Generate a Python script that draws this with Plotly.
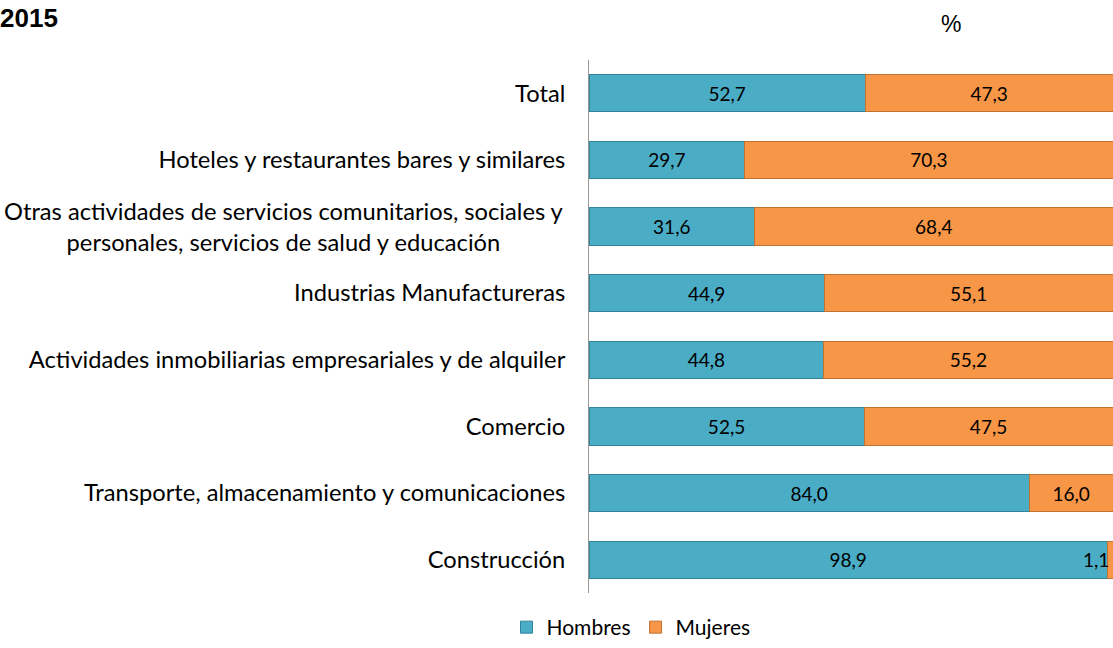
import plotly.graph_objects as go

categories = [
    "Total",
    "Hoteles y restaurantes bares y similares",
    "Otras actividades de servicios comunitarios, sociales y<br>personales, servicios de salud y educación",
    "Industrias Manufactureras",
    "Actividades inmobiliarias empresariales y de alquiler",
    "Comercio",
    "Transporte, almacenamiento y comunicaciones",
    "Construcción",
]
hombres = [52.7, 29.7, 31.6, 44.9, 44.8, 52.5, 84.0, 98.9]
mujeres = [47.3, 70.3, 68.4, 55.1, 55.2, 47.5, 16.0, 1.1]

def fmt(v):
    return f"{v:.1f}".replace(".", ",")

BLUE = "#4bacc6"
ORANGE = "#f79646"
FONT = "Lato"
LABEL_SIZE = 23.7
VALUE_SIZE = 19

W, H = 1113, 648
ML, MR, MT, MB = 589, 0, 60, 648 - 593
PW, PH = W - ML - MR, H - MT - MB

def px_x(px):
    return (px - ML) / PW

def px_y(py):
    return 1 - (py - MT) / PH

muj_text = [fmt(v) if v >= 5 else "" for v in mujeres]
tick_text = [c if "<br>" not in c else "" for c in categories]

fig = go.Figure()
fig.add_trace(go.Bar(
    y=categories, x=hombres, orientation="h", name="Hombres",
    marker=dict(color=BLUE, line=dict(color="#31849b", width=1)),
    text=[fmt(v) for v in hombres], textposition="inside", insidetextanchor="middle",
    textfont=dict(color="black", size=VALUE_SIZE, family=FONT),
))
fig.add_trace(go.Bar(
    y=categories, x=mujeres, orientation="h", name="Mujeres",
    marker=dict(color=ORANGE, line=dict(color="#c0722f", width=1)),
    text=muj_text, textposition="inside", insidetextanchor="middle",
    textfont=dict(color="black", size=VALUE_SIZE, family=FONT),
))

fig.update_layout(
    width=W, height=H,
    barmode="stack", bargap=0.44,
    plot_bgcolor="white", paper_bgcolor="white",
    margin=dict(l=ML, r=MR, t=MT, b=MB),
    font=dict(family=FONT, size=LABEL_SIZE, color="black"),
    showlegend=True,
    legend=dict(orientation="h", x=px_x(631), y=px_y(648), xanchor="center",
                yanchor="bottom", font=dict(size=21, family=FONT),
                traceorder="normal", itemwidth=30),
    xaxis=dict(range=[0, 100], showgrid=False, showticklabels=False,
               zeroline=False, showline=False, fixedrange=True),
    yaxis=dict(autorange="reversed", showline=True, linecolor="#999999",
               linewidth=1, ticks="", ticklabelstandoff=18,
               tickmode="array", tickvals=categories, ticktext=tick_text,
               tickfont=dict(size=LABEL_SIZE, family=FONT)),
)
for c in categories:
    if "<br>" in c:
        fig.add_annotation(x=px_x(566), y=c, xref="paper", yref="y", text=c,
                           showarrow=False, xanchor="right", align="center",
                           font=dict(size=LABEL_SIZE, family=FONT, color="black"))
fig.add_annotation(x=px_x(-2), y=px_y(18), xref="paper", yref="paper",
                   text="<b>2015</b>", showarrow=False, xanchor="left",
                   yanchor="middle",
                   font=dict(family="Liberation Sans", size=26, color="black"))
fig.add_annotation(x=px_x(951), y=px_y(24), xref="paper", yref="paper",
                   text="%", showarrow=False, xanchor="center", yanchor="middle",
                   font=dict(family="Liberation Sans", size=23, color="black"))
for c, h, m in zip(categories, hombres, mujeres):
    if m < 5:
        fig.add_annotation(x=h + m, y=c, xref="x", yref="y", text=fmt(m),
                           showarrow=False, xanchor="right", xshift=-2,
                           font=dict(color="black", size=VALUE_SIZE, family=FONT))

fig.write_html("out.html",
               config={"displayModeBar": False},
               post_script="document.body.style.margin='0';"
                           "document.body.style.overflow='hidden';")
